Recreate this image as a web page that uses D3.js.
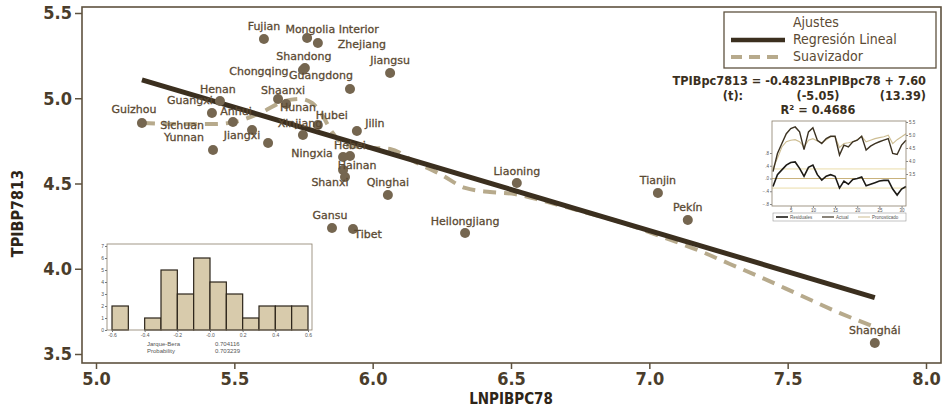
<!DOCTYPE html>
<html>
<head>
<meta charset="utf-8">
<script src="https://cdn.jsdelivr.net/npm/d3@7"></script>
<style>
  body { margin: 0; background: #fff; }
  svg { display: block; font-family: "DejaVu Sans", Verdana, sans-serif; }
</style>
</head>
<body>
<div id="chart"></div>
<script>
/* scatter TPIBP7813 vs LNPIBPC78 with fit, smoother and two small insets */

// provinces
const provinces = ["Fujian", "Mongolia Interior", "Zhejiang", "Shandong", "Chongqing", "Jiangsu",
  "Guangdong", "Henan", "Shaanxi", "Hunan", "Guangxi", "Anhui", "Guizhou", "Sichuan", "Yunnan",
  "Jiangxi", "Xinjiang", "Hubei", "Jilin", "Hebei", "Ningxia", "Hainan", "Shanxi", "Qinghai",
  "Liaoning", "Tianjin", "Pekín", "Gansu", "Tibet", "Heilongjiang", "Shanghái"];
const lnpib78 = [5.607, 5.763, 5.802, 5.755, 5.748, 6.063, 5.918, 5.448, 5.658, 5.687, 5.419,
  5.495, 5.166, 5.564, 5.423, 5.622, 5.748, 5.802, 5.943, 5.918, 5.893, 5.893, 5.900, 6.055,
  6.521, 7.031, 7.139, 5.853, 5.929, 6.334, 7.815];
const tpib7813 = [5.348, 5.353, 5.324, 5.177, 5.166, 5.148, 5.054, 4.984, 4.996, 4.966, 4.913,
  4.861, 4.855, 4.814, 4.696, 4.738, 4.784, 4.843, 4.808, 4.661, 4.655, 4.579, 4.538, 4.433,
  4.503, 4.444, 4.286, 4.239, 4.233, 4.210, 3.565];

// regression line ends
const fitX = [5.166, 7.815];
const fitY = [5.108, 3.831];

// smoother (lowess)
const smoothX = [5.166, 5.304, 5.430, 5.502, 5.593, 5.683, 5.737, 5.781, 5.817, 5.853, 5.900,
  5.954, 6.063, 6.153, 6.243, 6.334, 6.424, 6.514, 6.605, 6.749, 6.894, 7.038, 7.183, 7.291,
  7.400, 7.544, 7.689, 7.815];
const smoothY = [4.855, 4.849, 4.849, 4.861, 4.913, 4.984, 4.996, 4.972, 4.902, 4.802, 4.726,
  4.714, 4.702, 4.626, 4.556, 4.474, 4.450, 4.438, 4.403, 4.339, 4.274, 4.192, 4.104, 4.028,
  3.952, 3.846, 3.740, 3.658];

const xTicks = [5.0, 5.5, 6.0, 6.5, 7.0, 7.5, 8.0];
const yTicks = [3.5, 4.0, 4.5, 5.0, 5.5];

// histogram of residuals
const histBins = [-0.6, -0.5, -0.4, -0.3, -0.2, -0.1, 0.0, 0.1, 0.2, 0.3, 0.4, 0.5];
const histCounts = [2, 0, 1, 5, 3, 6, 4, 3, 1, 2, 2, 2];
const histXTicks = ["-0.6", "-0.4", "-0.2", "-0.0", "0.2", "0.4", "0.6"];

// residual / actual / fitted inset
const obs = d3.range(1, 32);
const residuals = [-0.25, 0.12, 0.27, 0.42, 0.50, 0.52, 0.32, 0.07, 0.35, 0.42, 0.12, -0.05,
  0.07, 0.12, 0.07, -0.30, -0.08, -0.18, -0.03, 0.00, 0.05, -0.23, -0.18, -0.13, -0.08, -0.06,
  -0.06, -0.33, -0.52, -0.33, -0.25];
const actual = [3.59, 4.29, 4.67, 5.05, 5.25, 5.31, 5.12, 4.44, 5.12, 5.28, 4.80, 4.67, 4.86,
  4.95, 4.95, 4.23, 4.61, 4.54, 4.74, 4.80, 4.95, 4.42, 4.57, 4.67, 4.74, 4.80, 4.86, 4.29,
  4.25, 4.61, 4.80];
const fitted = [3.72, 4.10, 4.54, 4.74, 4.80, 4.82, 4.74, 4.54, 4.80, 4.86, 4.77, 4.70, 4.82,
  4.93, 4.93, 4.52, 4.67, 4.70, 4.74, 4.82, 4.95, 4.74, 4.80, 4.86, 4.90, 4.93, 4.99, 4.67,
  4.82, 4.93, 5.05];

// label placement around each dot (pixels)
const labelOffset = {
  "Fujian": [0, -12], "Mongolia Interior": [25, -8], "Zhejiang": [44, 2], "Shandong": [-1, -11],
  "Chongqing": [-44, 2], "Jiangsu": [0, -12], "Guangdong": [-29, -13], "Henan": [-2, -11],
  "Shaanxi": [5, -8], "Hunan": [12, 4], "Guangxi": [-22, -12], "Anhui": [3, -10],
  "Guizhou": [-8, -13], "Sichuan": [-70, -4], "Yunnan": [-29, -12], "Jiangxi": [-26, -7],
  "Xinjiang": [-3, -11], "Hubei": [14, -9], "Jilin": [18, -7], "Hebei": [0, -10],
  "Ningxia": [-31, -3], "Hainan": [14, -4], "Shanxi": [-15, 6], "Qinghai": [0, -12],
  "Liaoning": [0, -11], "Tianjin": [0, -12], "Pekín": [0, -12], "Gansu": [-2, -12],
  "Tibet": [15, 6], "Heilongjiang": [0, -11], "Shanghái": [0, -12]
};

let width = 943, height = 406;
const frame = { left: 82, right: 941, top: 7, bottom: 363 };
const dark = "#4a3d2b", frameCol = "#5e523f";

const svg = d3.select("#chart").append("svg")
  .attr("width", width).attr("height", height);

let x = d3.scaleLinear().domain([5, 8]).range([96, 926]);
let y = d3.scaleLinear().domain([3.5, 5.5]).range([354, 13]);

// axes
svg.append("g")
  .attr("transform", `translate(0,${frame.bottom})`)
  .call(d3.axisBottom(x).tickValues(xTicks).tickFormat(d3.format(".1f")).tickSize(6).tickSizeOuter(0).tickPadding(3))
  .call(g => g.select(".domain").remove())
  .call(g => g.selectAll("line").attr("stroke", frameCol).attr("stroke-width", 1.5))
  .call(g => g.selectAll("text").attr("fill", dark).attr("font-size", 18)
    .attr("font-family", "DejaVu Sans Condensed, DejaVu Sans").attr("font-weight", "bold"));

svg.append("g")
  .attr("transform", `translate(${frame.left},0)`)
  .call(d3.axisLeft(y).tickValues(yTicks).tickFormat(d3.format(".1f")).tickSize(7).tickSizeOuter(0).tickPadding(3))
  .call(g => g.select(".domain").remove())
  .call(g => g.selectAll("line").attr("stroke", frameCol).attr("stroke-width", 1.5))
  .call(g => g.selectAll("text").attr("fill", dark).attr("font-size", 18)
    .attr("font-family", "DejaVu Sans Condensed, DejaVu Sans").attr("font-weight", "bold"));

svg.append("rect")
  .attr("x", frame.left).attr("y", frame.top)
  .attr("width", frame.right - frame.left).attr("height", frame.bottom - frame.top)
  .attr("fill", "none").attr("stroke", frameCol).attr("stroke-width", 1.6);

svg.append("text")
  .attr("x", x(6.5)).attr("y", 399)
  .attr("text-anchor", "middle").attr("dominant-baseline", "middle")
  .attr("font-family", "DejaVu Sans Condensed, DejaVu Sans").attr("font-weight", "bold")
  .attr("font-size", 15).attr("fill", "#2e2518")
  .text("LNPIBPC78");

svg.append("text")
  .attr("transform", `translate(18,${y(4.5) + 30}) rotate(-90)`)
  .attr("text-anchor", "middle").attr("dominant-baseline", "middle")
  .attr("font-family", "DejaVu Sans Condensed, DejaVu Sans").attr("font-weight", "bold")
  .attr("font-size", 16).attr("fill", "#2e2518")
  .text("TPIBP7813");

// histogram inset
let hx = d3.scaleLinear().domain([-0.6, 0.6]).range([112, 308]);
let hy = d3.scaleLinear().domain([0, 7]).range([330, 246]);
let hist = svg.append("g").attr("font-family", "Liberation Sans, Arial, sans-serif");

hist.append("rect").attr("x", 100).attr("y", 240).attr("width", 218).attr("height", 118).attr("fill", "#fff");

hist.selectAll("rect.bar")
  .data(histBins.map((b, i) => ({ b, c: histCounts[i] })).filter(d => d.c > 0))
  .join("rect")
  .attr("class", "bar")
  .attr("x", d => hx(d.b)).attr("width", d => hx(d.b + 0.1) - hx(d.b))
  .attr("y", d => hy(d.c)).attr("height", d => hy(0) - hy(d.c))
  .attr("fill", "#d8cbac").attr("stroke", "#2b2419").attr("stroke-width", 1.2);

hist.append("rect").attr("x", 107).attr("y", 244).attr("width", 205).attr("height", 86)
  .attr("fill", "none").attr("stroke", "#8a7e6a").attr("stroke-width", 0.8);

hist.append("g")
  .attr("transform", "translate(107,0)")
  .call(d3.axisLeft(hy).ticks(7).tickSize(2).tickPadding(1))
  .call(g => g.select(".domain").remove())
  .call(g => g.selectAll("line").attr("stroke", "#777"))
  .call(g => g.selectAll("text").attr("font-size", 5).attr("fill", "#555"));

hist.append("g")
  .attr("transform", "translate(0,330)")
  .call(d3.axisBottom(hx).tickValues(histXTicks.map(Number)).tickFormat((d, i) => histXTicks[i]).tickSize(2).tickPadding(1))
  .call(g => g.select(".domain").remove())
  .call(g => g.selectAll("line").attr("stroke", "#777"))
  .call(g => g.selectAll("text").attr("font-size", 5).attr("fill", "#555"));

hist.append("text").attr("x", 147).attr("y", 346).attr("font-size", 6).attr("fill", "#555").text("Jarque-Bera");
hist.append("text").attr("x", 215).attr("y", 346).attr("font-size", 6).attr("fill", "#555").text("0.704116");
hist.append("text").attr("x", 147).attr("y", 353).attr("font-size", 6).attr("fill", "#555").text("Probability");
hist.append("text").attr("x", 215).attr("y", 353).attr("font-size", 6).attr("fill", "#555").text("0.703239");

// smoother and regression line
let line = d3.line().x(d => x(d[0])).y(d => y(d[1]));

svg.append("path")
  .datum(smoothX.map((v, i) => [v, smoothY[i]]))
  .attr("fill", "none").attr("stroke", "#b7aa8c").attr("stroke-width", 4)
  .attr("stroke-dasharray", "13,8")
  .attr("d", d3.line().x(d => x(d[0])).y(d => y(d[1])).curve(d3.curveMonotoneX));

svg.append("path")
  .datum(fitX.map((v, i) => [v, fitY[i]]))
  .attr("fill", "none").attr("stroke", "#3b2f1f").attr("stroke-width", 5)
  .attr("d", line);

// points and labels
let pts = provinces.map((p, i) => ({ name: p, x: lnpib78[i], y: tpib7813[i] }));

svg.append("g").selectAll("circle")
  .data(pts).join("circle")
  .attr("cx", d => x(d.x)).attr("cy", d => y(d.y)).attr("r", 5)
  .attr("fill", "#756650");

svg.append("g").selectAll("text")
  .data(pts).join("text")
  .attr("x", d => x(d.x) + labelOffset[d.name][0])
  .attr("y", d => y(d.y) + labelOffset[d.name][1])
  .attr("text-anchor", "middle").attr("dominant-baseline", "middle")
  .attr("font-size", 11).attr("fill", "#5b4a33")
  .attr("stroke", "#5b4a33").attr("stroke-width", 0.3)
  .text(d => d.name);

// legend
let lg = svg.append("g");
lg.append("rect").attr("x", 724).attr("y", 12).attr("width", 212).attr("height", 56)
  .attr("fill", "#fff").attr("stroke", "#5e523f").attr("stroke-width", 1.3);
lg.append("text").attr("x", 793).attr("y", 23).attr("dominant-baseline", "middle")
  .attr("font-family", "DejaVu Sans Condensed, DejaVu Sans").attr("font-size", 14).attr("fill", "#5b4a33").text("Ajustes");
lg.append("line").attr("x1", 731).attr("x2", 785).attr("y1", 40).attr("y2", 40)
  .attr("stroke", "#3b2f1f").attr("stroke-width", 4.5);
lg.append("text").attr("x", 793).attr("y", 40).attr("dominant-baseline", "middle")
  .attr("font-family", "DejaVu Sans Condensed, DejaVu Sans").attr("font-size", 14).attr("fill", "#5b4a33").text("Regresión Lineal");
lg.append("line").attr("x1", 731).attr("x2", 785).attr("y1", 57).attr("y2", 57)
  .attr("stroke", "#b7aa8c").attr("stroke-width", 4).attr("stroke-dasharray", "11,7");
lg.append("text").attr("x", 793).attr("y", 57).attr("dominant-baseline", "middle")
  .attr("font-family", "DejaVu Sans Condensed, DejaVu Sans").attr("font-size", 14).attr("fill", "#5b4a33").text("Suavizador");

// equation
let eq = svg.append("g")
  .attr("font-family", "DejaVu Sans Condensed, DejaVu Sans").attr("font-weight", "bold")
  .attr("font-size", 12.6).attr("fill", "#3a2f20");
eq.append("text").attr("x", 926).attr("y", 81).attr("text-anchor", "end").attr("dominant-baseline", "middle")
  .text("TPIBpc7813 = -0.4823LnPIBpc78  + 7.60");
eq.append("text").attr("x", 733).attr("y", 96).attr("text-anchor", "middle").attr("dominant-baseline", "middle").text("(t):");
eq.append("text").attr("x", 818).attr("y", 96).attr("text-anchor", "middle").attr("dominant-baseline", "middle").text("(-5.05)");
eq.append("text").attr("x", 926).attr("y", 96).attr("text-anchor", "end").attr("dominant-baseline", "middle").text("(13.39)");
eq.append("text").attr("x", 818).attr("y", 110).attr("text-anchor", "middle").attr("dominant-baseline", "middle").text("R² = 0.4686");

// residual inset
let rx = d3.scaleLinear().domain([1, 31]).range([773, 906]);
let ryL = d3.scaleLinear().domain([-0.8, 0.8]).range([204, 153]);
let ryR = d3.scaleLinear().domain([3.5, 5.5]).range([174, 122]);
let ins = svg.append("g").attr("font-family", "Liberation Sans, Arial, sans-serif");

ins.append("rect").attr("x", 762).attr("y", 117).attr("width", 156).attr("height", 108).attr("fill", "#fff");
[-0.3, 0.3].forEach(v => ins.append("line").attr("x1", 772).attr("x2", 906)
  .attr("y1", ryL(v)).attr("y2", ryL(v)).attr("stroke", "#eadca8").attr("stroke-width", 1));
ins.append("line").attr("x1", 772).attr("x2", 906).attr("y1", ryL(0)).attr("y2", ryL(0))
  .attr("stroke", "#c9b27c").attr("stroke-width", 1);

ins.append("path").datum(obs)
  .attr("fill", "none").attr("stroke", "#cdbd92").attr("stroke-width", 1.1)
  .attr("d", d3.line().x(d => rx(d)).y((d, i) => ryR(fitted[i])));
ins.append("path").datum(obs)
  .attr("fill", "none").attr("stroke", "#3c3222").attr("stroke-width", 1.4)
  .attr("d", d3.line().x(d => rx(d)).y((d, i) => ryR(actual[i])));
ins.append("path").datum(obs)
  .attr("fill", "none").attr("stroke", "#1c1a16").attr("stroke-width", 1.6)
  .attr("d", d3.line().x(d => rx(d)).y((d, i) => ryL(residuals[i])));

ins.append("rect").attr("x", 772).attr("y", 121).attr("width", 134).attr("height", 85)
  .attr("fill", "none").attr("stroke", "#8a7e6a").attr("stroke-width", 0.8);

ins.append("g").attr("transform", "translate(772,0)")
  .call(d3.axisLeft(ryL).tickValues([-0.8, -0.4, 0, 0.4, 0.8]).tickFormat(d => d3.format(".1f")(d).replace("0.", ".")).tickSize(2).tickPadding(1))
  .call(g => g.select(".domain").remove())
  .call(g => g.selectAll("line").attr("stroke", "#888"))
  .call(g => g.selectAll("text").attr("font-size", 4.5).attr("fill", "#555"));
ins.append("g").attr("transform", "translate(906,0)")
  .call(d3.axisRight(ryR).tickValues([3.5, 4.0, 4.5, 5.0, 5.5]).tickFormat(d3.format(".1f")).tickSize(2).tickPadding(1))
  .call(g => g.select(".domain").remove())
  .call(g => g.selectAll("line").attr("stroke", "#888"))
  .call(g => g.selectAll("text").attr("font-size", 4.5).attr("fill", "#555"));
ins.append("g").attr("transform", "translate(0,206)")
  .call(d3.axisBottom(rx).tickValues([5, 10, 15, 20, 25, 30]).tickSize(2).tickPadding(1))
  .call(g => g.select(".domain").remove())
  .call(g => g.selectAll("line").attr("stroke", "#888"))
  .call(g => g.selectAll("text").attr("font-size", 4.5).attr("fill", "#555"));

ins.append("rect").attr("x", 773).attr("y", 213).attr("width", 133).attr("height", 8)
  .attr("fill", "none").attr("stroke", "#999").attr("stroke-width", 0.6);
[["Residuales", "#1c1a16", 1.6, 776], ["Actual", "#3c3222", 1.2, 822], ["Pronosticado", "#cdbd92", 1, 858]]
  .forEach(([t, c, w, lx]) => {
    ins.append("line").attr("x1", lx).attr("x2", lx + 12).attr("y1", 217).attr("y2", 217)
      .attr("stroke", c).attr("stroke-width", w);
    ins.append("text").attr("x", lx + 14).attr("y", 218.5).attr("font-size", 4.5).attr("fill", "#555").text(t);
  });
</script>
</body>
</html>
